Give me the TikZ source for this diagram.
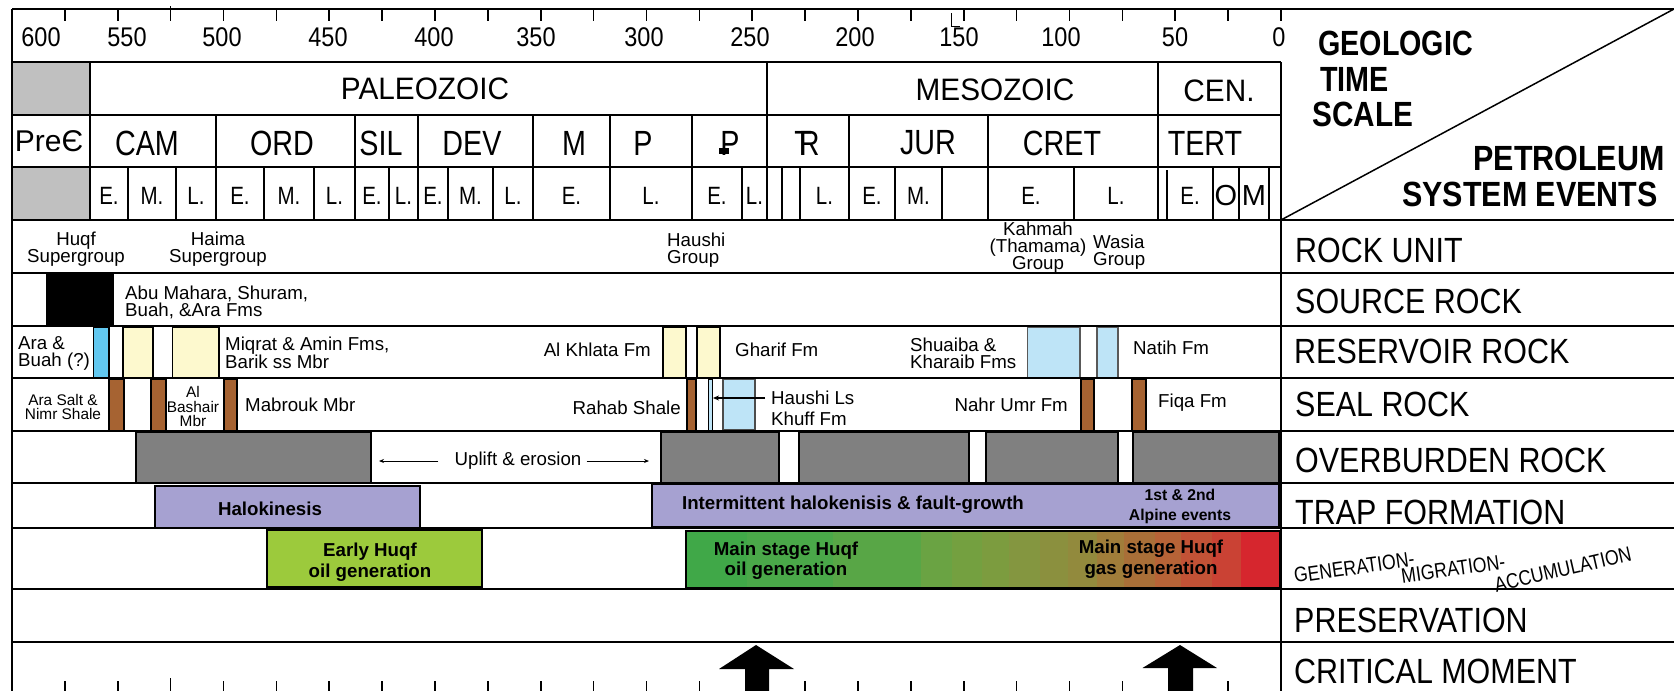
\documentclass[tikz,border=0pt]{standalone}
\usepackage{fontspec}
\setmainfont{Liberation Sans}
\usepackage{graphicx}
\usetikzlibrary{arrows.meta}
\definecolor{preg}{RGB}{192,192,192}
\definecolor{ovb}{RGB}{128,128,128}
\definecolor{lav}{RGB}{166,161,209}
\definecolor{yel}{RGB}{253,249,206}
\definecolor{blu}{RGB}{98,200,240}
\definecolor{lblu}{RGB}{190,228,247}
\definecolor{brn}{RGB}{166,99,50}
\definecolor{egreen}{RGB}{156,202,60}
\newcommand\hs[2]{\scalebox{#1}[1]{#2}}
\tikzset{
  gridln/.style={line width=1.8pt},
  tck/.style={line width=1.6pt},
  txt/.style={inner sep=0pt, font=\fontsize{18.7}{17}\selectfont},
  txts/.style={inner sep=0pt, align=center, font=\fontsize{15.4}{14.3}\selectfont},
  txtb/.style={inner sep=0pt, align=center, font=\bfseries\fontsize{18.7}{20.5}\selectfont},
  num/.style={inner sep=0pt, font=\fontsize{27}{27}\selectfont},
  era/.style={inner sep=0pt, font=\fontsize{31}{31}\selectfont},
  per/.style={inner sep=0pt, font=\fontsize{35}{35}\selectfont},
  epo/.style={inner sep=0pt, font=\fontsize{25}{25}\selectfont},
  evt/.style={inner sep=0pt, anchor=west, font=\fontsize{35}{35}\selectfont},
  hdr/.style={inner sep=0pt, font=\bfseries\fontsize{35}{35}\selectfont},
  gma/.style={inner sep=0pt, font=\fontsize{21}{21}\selectfont},
  bar/.style={draw=black, line width=1.2pt},
  thinarrow/.style={line width=1pt, -{Stealth[length=5pt,width=4pt]}},
}
\begin{document}
\begin{tikzpicture}[x=1pt,y=-1pt]
\useasboundingbox (0,0) rectangle (1674,691);
\fill[white] (0,0) rectangle (1674,691);

% ---------- bars (drawn first, grid on top) ----------
% source rock
\fill[black] (46,274) rectangle (114,325);
% reservoir
\draw[bar, fill=blu] (93.6,327.5) rectangle (109,377.5);
\draw[bar, fill=yel] (123,327.5) rectangle (153,377.5);
\draw[bar, fill=yel] (172.5,327.5) rectangle (219,377.5);
\draw[bar, fill=yel] (663,327.5) rectangle (686,377.5);
\draw[bar, fill=yel] (697,327.5) rectangle (720,377.5);
\draw[bar, draw=gray!70!black, fill=lblu] (1027.5,327) rectangle (1080,377.5);
\draw[bar, draw=gray!70!black, fill=lblu] (1097,327) rectangle (1118,377.5);
% seal
\foreach \a/\b in {109/124,151/166,224/237,687/696,1081/1094,1132/1146}
  \draw[bar, fill=brn] (\a,379) rectangle (\b,431);
\draw[line width=0.9pt, fill=lblu] (708,379) rectangle (712,431);
\draw[bar, draw=gray!60!black, fill=lblu] (723,379) rectangle (755,430);
% overburden
\foreach \a/\b in {136/371,661/779,799/969,986/1118,1133/1279}
  \draw[bar, line width=1.5pt, fill=ovb] (\a,432) rectangle (\b,482.5);
% trap
\draw[bar, fill=lav] (155,486) rectangle (420,528);
\draw[bar, fill=lav] (652,484) rectangle (1279,527);
% generation
\draw[bar, fill=egreen] (267,530) rectangle (482,587);
\foreach \a/\b/\r/\g/\bb in {686/747/64/168/72, 747/833/74/168/73, 833/921/88/166/70,
   921/952/106/163/67, 952/982/116/160/64, 982/1009/124/156/63, 1009/1040/132/150/64,
   1040/1068/139/144/62, 1068/1097/146/138/61, 1097/1124/160/125/58, 1124/1155/169/111/56,
   1155/1181/183/99/55, 1181/1212/194/82/54, 1212/1241/202/66/52, 1241/1280/214/38/46}
{ \definecolor{tmpc}{RGB}{\r,\g,\bb} \fill[tmpc] (\a,531) rectangle (\b,588); }
\draw[bar] (686,531) rectangle (1280,588);

% ---------- grid ----------
\draw[gridln] (12,9) -- (1674,9);
\draw[gridln] (12,9) -- (12,691);
\draw[gridln] (1281,62) -- (1281,691);
\draw[tck] (1281,9) -- (1281,21);
\foreach \y in {62,115,167} \draw[gridln] (12,\y) -- (1281,\y);
\foreach \y in {220,273,326,378,431,483,528,589,642} \draw[gridln] (12,\y) -- (1674,\y);
\draw[line width=1.5pt] (1281,220) -- (1674,9);
% era row lines
\foreach \xx in {767,1158} \draw[gridln] (\xx,62) -- (\xx,115);
% period row lines
\foreach \xx in {90,216,355,418,533,610,692,767,849,988,1158} \draw[gridln] (\xx,115) -- (\xx,167);
% epoch row lines
\foreach \xx in {128,176,216,264,314,355,389,418,448,493,533,610,692,742,767,782,800,849,895,942,988,1074,1158,1213,1239,1269}
  \draw[line width=1.6pt] (\xx,167) -- (\xx,220);
\draw[line width=1.4pt] (1167,170) -- (1167,220);
% PreC grey boxes
\draw[line width=2.6pt, fill=preg] (12,62) rectangle (90,115);
\draw[line width=2.6pt, fill=preg] (12,167) rectangle (90,220);

% ticks
\foreach \a in {25,50,...,575} {
  \draw[tck] ({1281-2.115*\a},9) -- ++(0,12);
  \draw[tck] ({1281-2.115*\a},691) -- ++(0,-10);
}
\draw[tck] ({1281-2.115*525},6) -- ++(0,15);
\draw[tck] ({1281-2.115*525},691) -- ++(0,-13);
\draw[line width=0.9pt] (951,13) -- (951,26) -- (960,26);

% ---------- time scale texts ----------
\foreach \v/\xx in {600/41,550/127,500/222,450/328,400/434,350/536,300/644,250/750,200/855,150/959,100/1061,50/1175,0/1279}
  \node[num] (n\v) at (\xx,37) {\hs{0.87}{\v}};
\node[era] (paleo) at (425,89) {\hs{0.96}{PALEOZOIC}};
\node[era] (meso) at (995,90) {\hs{0.96}{MESOZOIC}};
\node[era] (ceno) at (1219,91) {\hs{0.96}{CEN.}};
\node[inner sep=0pt, font=\fontsize{30}{30}\selectfont] (prec) at (49,141) {PreЄ};
\foreach \t/\xx/\nm in {CAM/147/cam, ORD/282/ord, SIL/381/sil, DEV/472/dev, M/574/mis, P/643/pen, JUR/928/jur, CRET/1062/cret, TERT/1205/tert}
  \node[per] (\nm) at (\xx,143) {\hs{0.82}{\t}};
\node[per] (perm) at (730,143) {\hs{0.82}{P}};
\fill (719,148) rectangle (729,154);
\node[per] (tri) at (807,143) {\hs{0.82}{T\kern-0.45em R}};
\foreach \t/\xx/\nm in {E./109/e1, M./152/e2, L./196/e3, E./240/e4, M./289/e5, L./334.5/e6,
   E./372/e7, L./403.5/e8, E./433/e9, M./470.5/e10, L./513/e11, E./571.5/e12, L./651/e13,
   E./717/e14, L./754.5/e15, L./824.5/e16, E./872/e17, M./918.5/e18, E./1031/e19, L./1116/e20, E./1190/e21}
  \node[epo] (\nm) at (\xx,196) {\hs{0.82}{\t}};
\node[inner sep=0pt, font=\fontsize{29}{29}\selectfont] (oli) at (1226,196) {O};
\node[inner sep=0pt, font=\fontsize{29}{29}\selectfont] (mio) at (1254,196) {M};

% header
\node[hdr, anchor=west] (geo) at (1318,43) {\hs{0.82}{GEOLOGIC}};
\node[hdr, anchor=west] (time) at (1320,79) {\hs{0.82}{TIME}};
\node[hdr, anchor=west] (scale) at (1312,114.5) {\hs{0.85}{SCALE}};
\node[hdr] (petro) at (1569,158) {\hs{0.87}{PETROLEUM}};
\node[hdr] (syst) at (1530,194) {\hs{0.87}{SYSTEM EVENTS}};

% right column
\node[evt] (rocku) at (1295,250) {\hs{0.87}{ROCK UNIT}};
\node[evt] (srcr) at (1295,301.5) {\hs{0.87}{SOURCE ROCK}};
\node[evt] (resr) at (1294,351.5) {\hs{0.87}{RESERVOIR ROCK}};
\node[evt] (sealr) at (1295,404.5) {\hs{0.87}{SEAL ROCK}};
\node[evt] (ovbr) at (1295,460.5) {\hs{0.87}{OVERBURDEN ROCK}};
\node[evt] (trapf) at (1295,512.5) {\hs{0.87}{TRAP FORMATION}};
\node[evt] (pres) at (1294,620) {\hs{0.87}{PRESERVATION}};
\node[evt] (crit) at (1294,671.5) {\hs{0.87}{CRITICAL MOMENT}};
\node[gma, rotate=8, anchor=base west] (gma) at (1295,583)
  {\hs{0.84}{GENERATION-}\kern-15pt\raisebox{-15pt}{\hs{0.84}{MIGRATION-}}\kern-14pt\raisebox{-37pt}{\rotatebox[origin=bl]{5}{\hs{0.84}{ACCUMULATION}}}};

% ---------- chart labels ----------
\node[txt, align=center] (huqf) at (76,249) {Huqf\\Supergroup};
\node[txt, align=center] (haima) at (218,249) {Haima\\Supergroup};
\node[txt, align=left, anchor=west] (haushi) at (667,250) {Haushi\\Group};
\node[txt, align=center] (kahmah) at (1038,247.5) {Kahmah\\(Thamama)\\Group};
\node[txt, align=left, anchor=west] (wasia) at (1093,252) {Wasia\\Group};

\node[txt, align=left, anchor=west] (abu) at (125,302.5) {Abu Mahara, Shuram,\\Buah, \&Ara Fms};

\node[txt, align=left, anchor=west] (arabuah) at (18,353) {Ara \&\\Buah (?)};
\node[txt, align=left, anchor=west] (miqrat) at (225,353) {Miqrat \& Amin Fms,\\Barik ss Mbr};
\node[txt, anchor=east] (khlata) at (651,350) {Al Khlata Fm};
\node[txt, anchor=west] (gharif) at (735,350) {Gharif Fm};
\node[txt, align=left, anchor=west] (shuaiba) at (910,353.5) {Shuaiba \&\\Kharaib Fms};
\node[txt, anchor=west] (natih) at (1133,348) {Natih Fm};

\node[txts] (arasalt) at (63,407) {Ara Salt \&\\Nimr Shale};
\node[txts] (bashair) at (193,406.5) {Al\\Bashair\\Mbr};
\node[txt, anchor=west] (mabrouk) at (245,405) {Mabrouk Mbr};
\node[txt, anchor=east] (rahab) at (681,408) {Rahab Shale};
\node[txt, anchor=west] (hls) at (771,398) {Haushi Ls};
\node[txt, anchor=west] (khuff) at (771,419) {Khuff Fm};
\node[txt, anchor=east] (nahr) at (1068,405) {Nahr Umr Fm};
\node[txt, anchor=west] (fiqa) at (1158,403) {Fiqa Fm};
\coordinate (hlsTip) at (713,398);
\draw[line width=1.4pt, -{Stealth[length=6pt,width=5pt]}] ([xshift=-6pt]hls.west) -- (hlsTip);

\node[txt] (uplift) at (518,461) {Uplift \& erosion};
\coordinate (upL) at (379,461);
\coordinate (upR) at (649,461);
\draw[thinarrow] ([xshift=-16pt]uplift.west) -- (upL);
\draw[thinarrow] ([xshift=5pt]uplift.east) -- (upR);

\node[txtb] (halo) at (270,509) {Halokinesis};
\node[txtb] (interm) at (853,505) {Intermittent halokenisis \& fault-growth};
\node[txtb, font=\bfseries\fontsize{15.7}{20}\selectfont] (alpine) at (1180,506) {1st \& 2nd\\Alpine events};

\node[txtb] (early) at (370,562) {Early Huqf\\oil generation};
\node[txtb] (mainoil) at (786,560.5) {Main stage Huqf\\oil generation};
\node[txtb] (maingas) at (1151,559) {Main stage Huqf\\gas generation};

% critical moment arrows
\fill (756,645) -- (794,669) -- (769,669) -- (769,691) -- (745,691) -- (745,669) -- (719,669) -- cycle;
\fill (1180,645) -- (1217,668) -- (1193,668) -- (1193,691) -- (1168,691) -- (1168,668) -- (1142.5,668) -- cycle;
\end{tikzpicture}
\end{document}
